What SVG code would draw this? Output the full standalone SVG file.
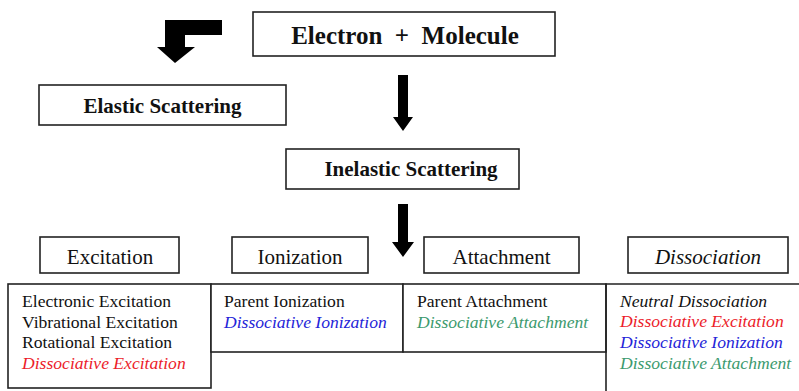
<svg xmlns="http://www.w3.org/2000/svg" width="799" height="391" viewBox="0 0 799 391">
  <style>
    .box { fill: #fff; stroke: #222; stroke-width: 1.6; }
    .line { fill: none; stroke: #222; stroke-width: 1.6; }
    .arrow { fill: #000; }
    text { font-family: "Liberation Serif", "Times New Roman", serif; fill: #111; }
    .title { font-size: 25px; font-weight: bold; text-anchor: middle; }
    .sub { font-size: 21px; font-weight: bold; text-anchor: middle; }
    .head { font-size: 21px; text-anchor: middle; }
    .item { font-size: 17.6px; }
    .it { font-style: italic; }
    .red { fill: #ec1c2a; }
    .blue { fill: #2424d8; }
    .green { fill: #3c9a6e; }
  </style>
  <rect width="799" height="391" fill="#fff"/>

  <!-- Connectors: block arrows -->
  <g id="connectors">
    <polygon class="arrow" points="222,20 165,20 165,47 157,47 175,63 195,47 185,47 185,35 222,35"/>
    <polygon class="arrow" points="398,75 408,75 408,117 413,117 403,131 393,117 398,117"/>
    <polygon class="arrow" points="398,204 408,204 408,242 414,242 403,257 392,242 398,242"/>
  </g>

  <g id="electron-molecule">
    <rect class="box" x="253" y="12" width="302" height="44"/>
    <text class="title" x="405" y="44" xml:space="preserve">Electron  +  Molecule</text>
  </g>

  <g id="elastic">
    <rect class="box" x="39" y="85" width="247" height="40"/>
    <text class="sub" x="162.5" y="113">Elastic Scattering</text>
  </g>

  <g id="inelastic">
    <rect class="box" x="286" y="149" width="233" height="40"/>
    <text class="sub" x="411" y="176">Inelastic Scattering</text>
  </g>

  <g id="excitation">
    <rect class="box" x="40" y="237" width="139" height="36"/>
    <text class="head" x="110" y="264">Excitation</text>
  </g>

  <g id="ionization">
    <rect class="box" x="232" y="237" width="136" height="36"/>
    <text class="head" x="300" y="264">Ionization</text>
  </g>

  <g id="attachment">
    <rect class="box" x="424" y="237" width="155" height="36"/>
    <text class="head" x="501.5" y="264">Attachment</text>
  </g>

  <g id="dissociation">
    <rect class="box" x="628" y="237" width="160" height="36"/>
    <text class="head it" x="708" y="264">Dissociation</text>
  </g>

  <g id="excitation-list">
    <rect class="box" x="8" y="284" width="203" height="104"/>
    <text class="item" x="22" y="307">Electronic Excitation</text>
    <text class="item" x="22" y="327.5">Vibrational Excitation</text>
    <text class="item" x="22" y="348">Rotational Excitation</text>
    <text class="item it red" x="22" y="368.5">Dissociative Excitation</text>
  </g>

  <g id="ionization-list">
    <rect class="box" x="211" y="284" width="192" height="68"/>
    <text class="item" x="224" y="307">Parent Ionization</text>
    <text class="item it blue" x="224" y="328">Dissociative Ionization</text>
  </g>

  <g id="attachment-list">
    <rect class="box" x="403" y="284" width="203" height="68"/>
    <text class="item" x="417" y="307">Parent Attachment</text>
    <text class="item it green" x="417" y="328">Dissociative Attachment</text>
  </g>

  <g id="dissociation-list">
    <path class="line" d="M606,392 V284 H800"/>
    <text class="item it" x="620" y="306.5">Neutral Dissociation</text>
    <text class="item it red" x="620" y="327">Dissociative Excitation</text>
    <text class="item it blue" x="620" y="348">Dissociative Ionization</text>
    <text class="item it green" x="620" y="368.5">Dissociative Attachment</text>
  </g>
</svg>
